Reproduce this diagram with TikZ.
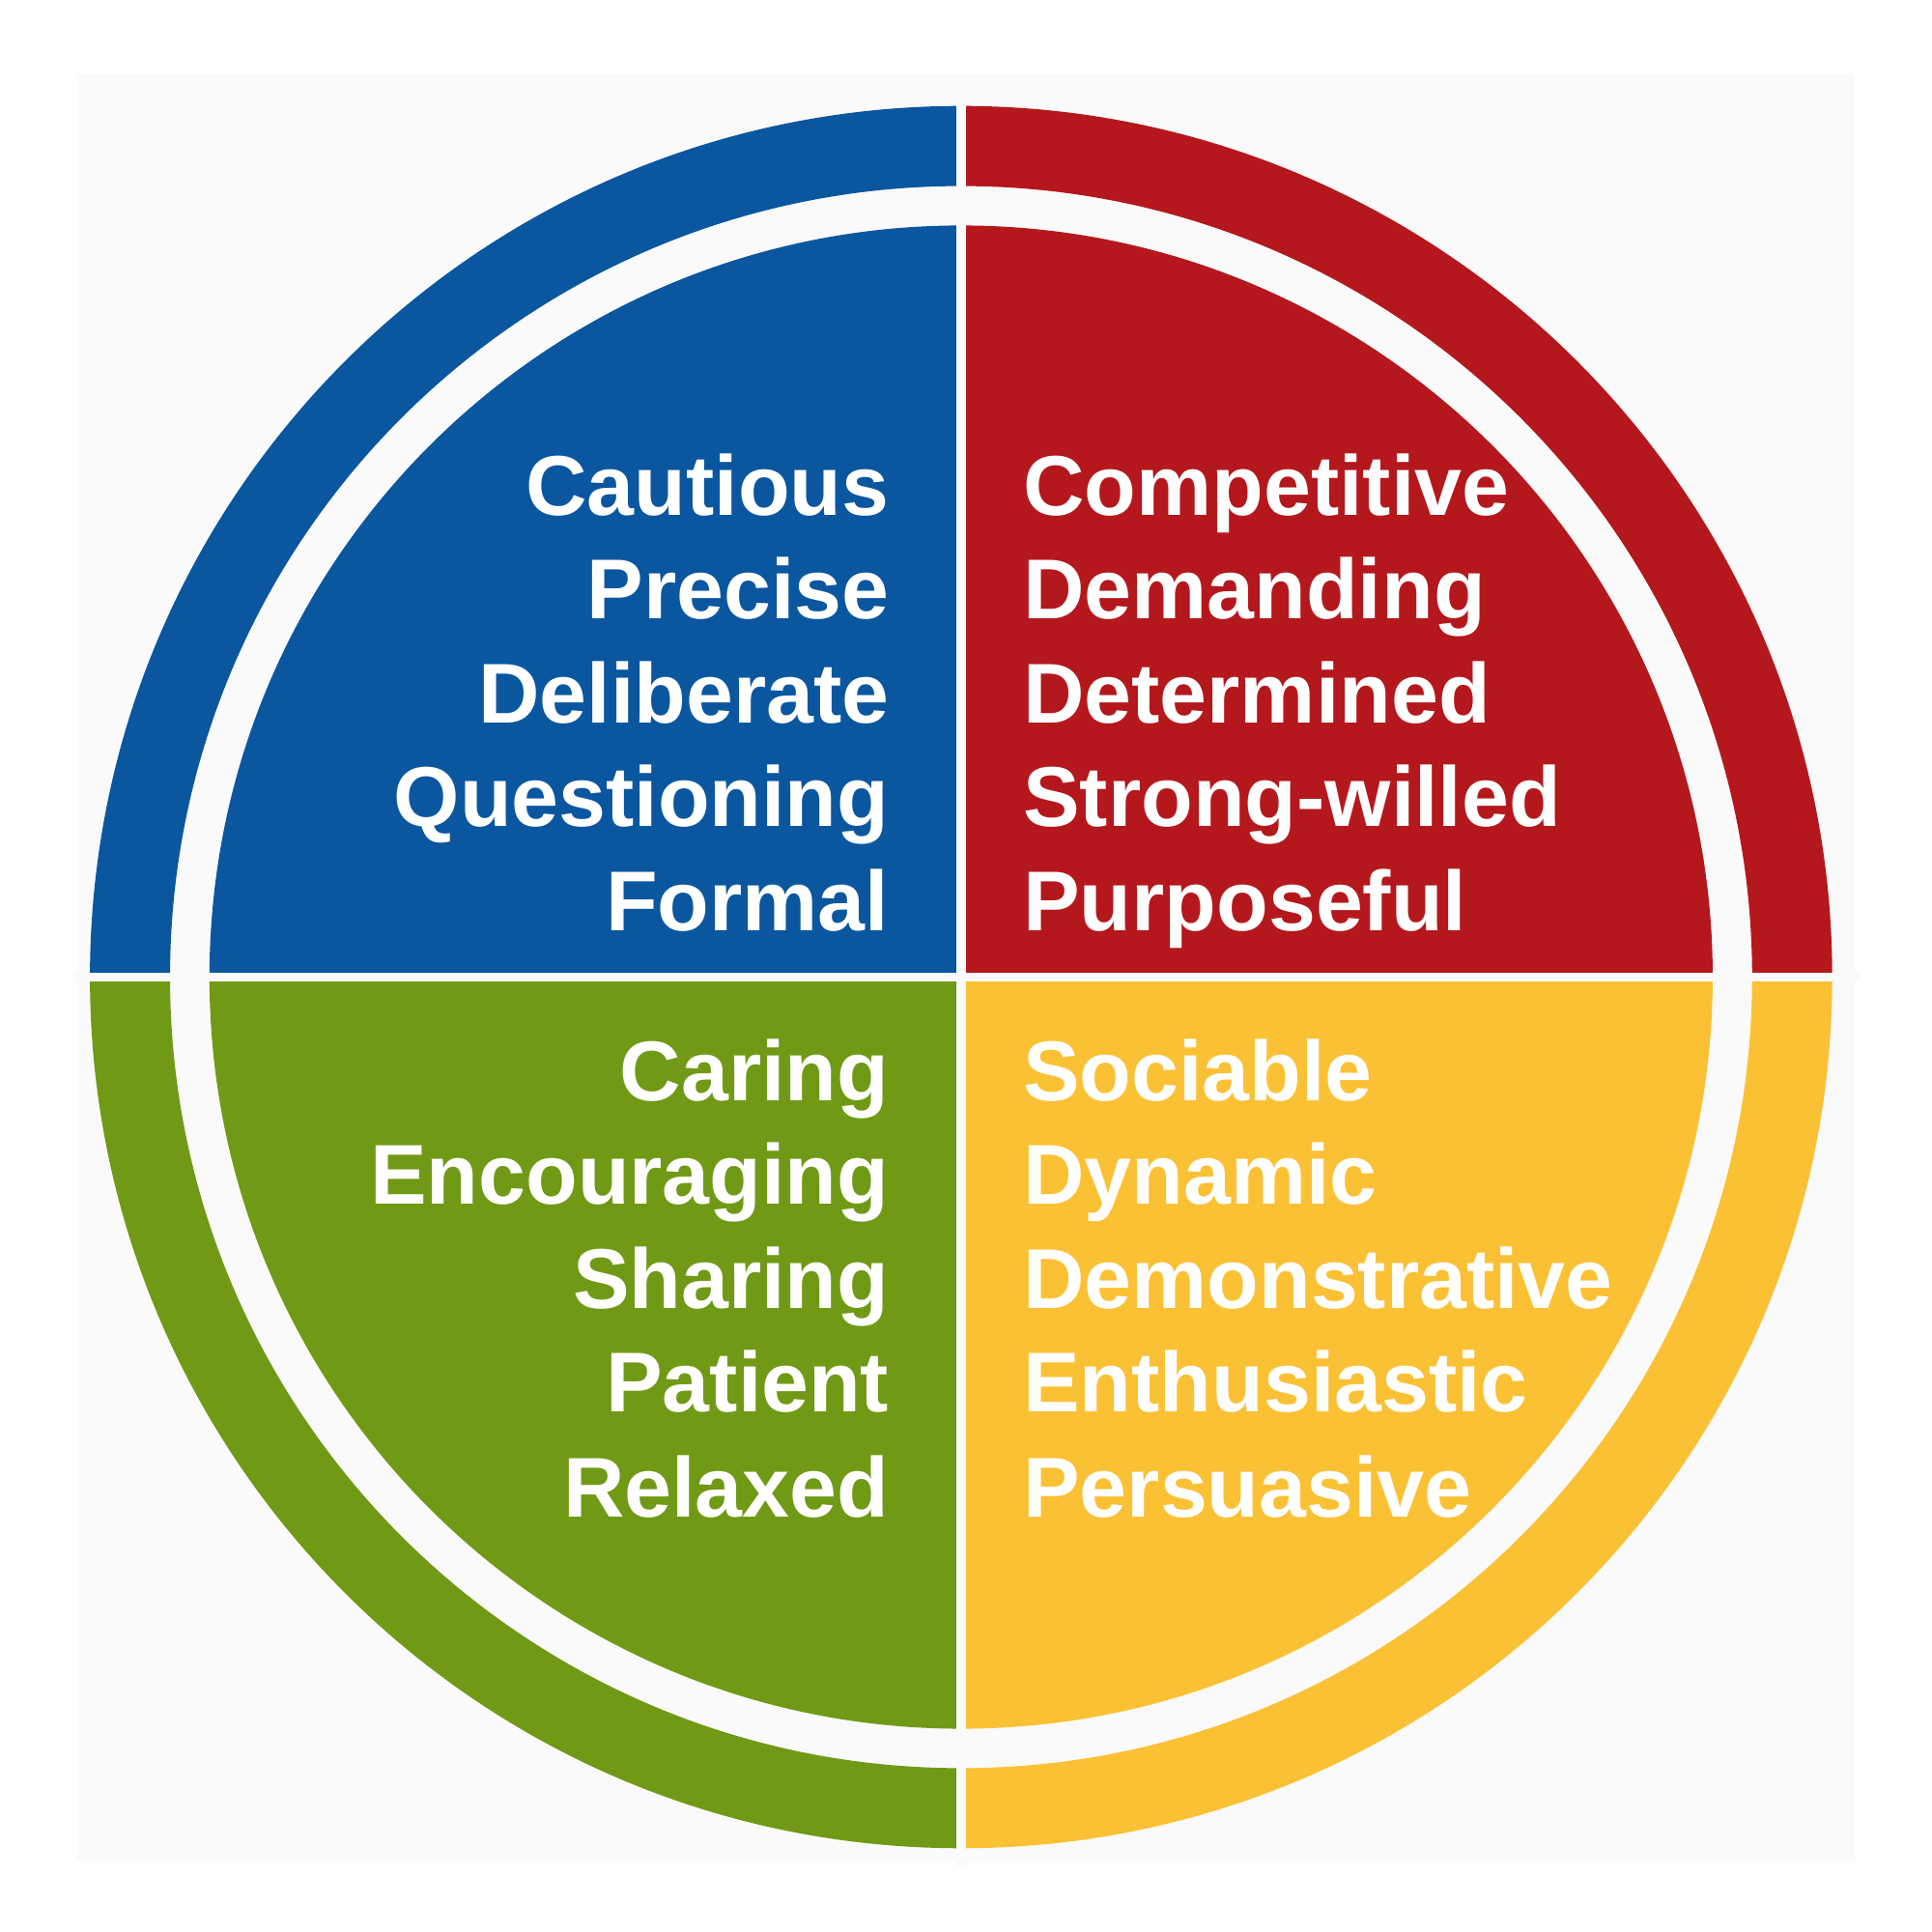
\documentclass[tikz,border=0pt]{standalone}
\usepackage{fontspec}
\setmainfont{Liberation Sans}
\usetikzlibrary{calc}
\definecolor{cblue}{HTML}{0A57A0}
\definecolor{cred}{HTML}{B4181D}
\definecolor{cgreen}{HTML}{709A15}
\definecolor{cyellow}{HTML}{FBC135}
\definecolor{bg}{HTML}{FAFAFA}
\begin{document}
\begin{tikzpicture}[x=0.012755cm,y=-0.012755cm,
  lbl/.style={text=white,font=\bfseries\fontsize{25}{30}\selectfont,inner sep=0pt},
  L/.style={lbl,anchor=base east},R/.style={lbl,anchor=base west}]
\useasboundingbox (0,0) rectangle (1568,1568);
\fill[white] (0,0) rectangle (1568,1568);
\fill[bg] (63,60) rectangle (1505,1510);
\coordinate (c) at (780,793);
\foreach \col/\a in {cred/0,cblue/90,cgreen/180,cyellow/270}{
  \fill[\col] ($(c)+(-\a:707)$) arc[start angle=-\a,end angle=-\a-90,radius=707]
     -- ($(c)+(-\a-90:642)$) arc[start angle=-\a-90,end angle=-\a,radius=642] -- cycle;
  \fill[\col] (c) -- ($(c)+(-\a:610)$) arc[start angle=-\a,end angle=-\a-90,radius=610] -- cycle;
}
\draw[bg,line width=0.1cm] (780,70) -- (780,1515);
\draw[bg,line width=0.09cm] (60,793) -- (1510,793);
\node[L] (a1) at (722,418) {Cautious};
\node[L] (a2) at (722,502) {Precise};
\node[L] (a3) at (722,587) {Deliberate};
\node[L] (a4) at (722,671) {Questioning};
\node[L] (a5) at (722,755) {Formal};
\node[R] (b1) at (830,418) {Competitive};
\node[R] (b2) at (830,502) {Demanding};
\node[R] (b3) at (830,587) {Determined};
\node[R] (b4) at (830,671) {Strong-willed};
\node[R] (b5) at (830,755) {Purposeful};
\node[L] (g1) at (722,893) {Caring};
\node[L] (g2) at (722,977) {Encouraging};
\node[L] (g3) at (722,1062) {Sharing};
\node[L] (g4) at (722,1146) {Patient};
\node[L] (g5) at (722,1231) {Relaxed};
\node[R] (y1) at (830,893) {Sociable};
\node[R] (y2) at (830,977) {Dynamic};
\node[R] (y3) at (830,1062) {Demonstrative};
\node[R] (y4) at (830,1146) {Enthusiastic};
\node[R] (y5) at (830,1231) {Persuasive};
\end{tikzpicture}
\end{document}
